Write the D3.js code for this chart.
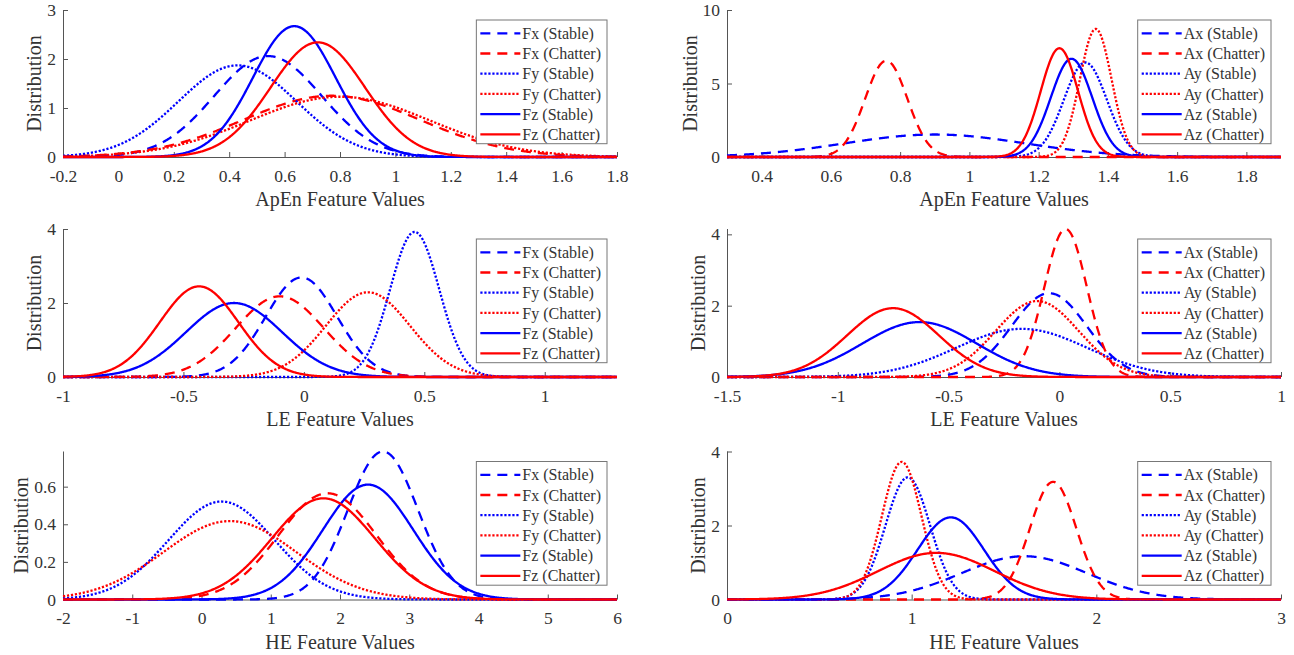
<!DOCTYPE html>
<html>
<head>
<meta charset="utf-8">
<script src="https://cdn.jsdelivr.net/npm/d3@7.9.0/dist/d3.min.js"></script>
<style>
  html, body { margin: 0; padding: 0; background: #fff; }
  svg { display: block; }
  text { font-family: "Liberation Serif", "Times New Roman", serif; fill: #333; }
</style>
</head>
<body>
<svg id="chart" width="1294" height="655"></svg>
<script>
// legend labels
const fLabels = ['Fx (Stable)', 'Fx (Chatter)', 'Fy (Stable)', 'Fy (Chatter)', 'Fz (Stable)', 'Fz (Chatter)'];
const aLabels = ['Ax (Stable)', 'Ax (Chatter)', 'Ay (Stable)', 'Ay (Chatter)', 'Az (Stable)', 'Az (Chatter)'];
const xTitles = ['ApEn Feature Values', 'ApEn Feature Values', 'LE Feature Values', 'LE Feature Values', 'HE Feature Values', 'HE Feature Values'];

// fitted normal curves: peak position and peak height (legend order)
const apenFMean = [0.54, 0.77, 0.43, 0.80, 0.635, 0.72];
const apenFPeak = [2.06, 1.25, 1.87, 1.23, 2.67, 2.34];
const apenAMean = [0.90, 0.76, 1.335, 1.365, 1.295, 1.26];
const apenAPeak = [1.53, 6.55, 6.43, 8.71, 6.68, 7.40];
const leFMean = [-0.01, -0.10, 0.46, 0.266, -0.29, -0.435];
const leFPeak = [2.69, 2.18, 3.92, 2.29, 2.00, 2.45];
const leAMean = [-0.046, 0.028, -0.17, -0.10, -0.631, -0.751];
const leAPeak = [2.35, 4.15, 1.35, 2.13, 1.54, 1.93];
const heFMean = [2.62, 1.82, 0.29, 0.41, 2.405, 1.76];
const heFPeak = [0.787, 0.565, 0.521, 0.417, 0.611, 0.538];
const heAMean = [1.61, 1.766, 0.979, 0.946, 1.212, 1.134];
const heAPeak = [1.17, 3.18, 3.30, 3.72, 2.22, 1.26];

const xDomains = [[-0.2, 1.8], [0.3, 1.9], [-1, 1.3], [-1.5, 1], [-2, 6], [0, 3]];
const yDomains = [[0, 3], [0, 10], [0, 4], [0, 4.15], [0, 0.787], [0, 4]];
const xTickVals = [
  [-0.2, 0, 0.2, 0.4, 0.6, 0.8, 1, 1.2, 1.4, 1.6, 1.8],
  [0.4, 0.6, 0.8, 1, 1.2, 1.4, 1.6, 1.8],
  [-1, -0.5, 0, 0.5, 1],
  [-1.5, -1, -0.5, 0, 0.5, 1],
  [-2, -1, 0, 1, 2, 3, 4, 5, 6],
  [0, 1, 2, 3]
];
const yTickVals = [[0, 1, 2, 3], [0, 5, 10], [0, 2, 4], [0, 2, 4], [0, 0.2, 0.4, 0.6], [0, 2, 4]];

const panelData = [
  { labels: fLabels, mean: apenFMean, peak: apenFPeak },
  { labels: aLabels, mean: apenAMean, peak: apenAPeak },
  { labels: fLabels, mean: leFMean, peak: leFPeak },
  { labels: aLabels, mean: leAMean, peak: leAPeak },
  { labels: fLabels, mean: heFMean, peak: heFPeak },
  { labels: aLabels, mean: heAMean, peak: heAPeak }
];

const colors = ['#0000ff', '#ff0000'];
const dashes = ['10,7', '2.2,1.8', null];

const colLeft = [63, 727];
const colWidth = 554;
const rowBottom = [157, 377, 599.5];
const rowHeight = [147, 148, 148];

const svg = d3.select('#chart');

panelData.forEach((p, k) => {
  const col = k % 2, row = Math.floor(k / 2);
  const x0 = colLeft[col], x1 = x0 + colWidth;
  const yb = rowBottom[row], yt = yb - rowHeight[row];

  const x = d3.scaleLinear().domain(xDomains[k]).range([x0, x1]);
  const y = d3.scaleLinear().domain(yDomains[k]).range([yb, yt]);
  const g = svg.append('g');

  // axes (MATLAB style, ticks inside, no box)
  const xAxis = g.append('g').attr('transform', `translate(0,${yb})`)
    .call(d3.axisBottom(x).tickValues(xTickVals[k]).tickSize(-5).tickPadding(0).tickFormat(d => String(d)));
  xAxis.selectAll('text').attr('y', 24.5).attr('dy', null).style('font-size', '17.5px');
  const yAxis = g.append('g').attr('transform', `translate(${x0},0)`)
    .call(d3.axisLeft(y).tickValues(yTickVals[k]).tickSize(-5).tickPadding(7).tickFormat(d => String(d)));
  yAxis.selectAll('text').style('font-size', '17.5px');
  g.selectAll('.tick line').attr('stroke', '#555');
  xAxis.select('.domain').attr('stroke', '#555').attr('d', `M${x0},0.5H${x1}`);
  yAxis.select('.domain').attr('stroke', '#555').attr('d', `M0.5,${yt}V${yb}`);
  g.selectAll('.tick text').style('fill', '#333').style('font-family', '"Liberation Serif", serif');

  let maxW = 0;
  yAxis.selectAll('text').each(function () { maxW = Math.max(maxW, this.getComputedTextLength()); });

  g.append('text')
    .attr('transform', `translate(${x0 - 7 - maxW - 6},${(yt + yb) / 2}) rotate(-90)`)
    .attr('text-anchor', 'middle')
    .style('font-size', '20px')
    .text('Distribution');

  g.append('text')
    .attr('x', (x0 + x1) / 2).attr('y', yb + 49)
    .attr('text-anchor', 'middle')
    .style('font-size', '20px')
    .text(xTitles[k]);

  // curves
  const xs = d3.range(0, 801).map(i => xDomains[k][0] + (xDomains[k][1] - xDomains[k][0]) * i / 800);
  const line = d3.line().x(d => x(d[0])).y(d => y(d[1]));
  p.mean.forEach((mu, i) => {
    const h = p.peak[i];
    const sd = 1 / (h * Math.sqrt(2 * Math.PI));
    const pts = xs.map(v => [v, h * Math.exp(-((v - mu) ** 2) / (2 * sd * sd))]);
    g.append('path')
      .attr('d', line(pts))
      .attr('fill', 'none')
      .attr('stroke', colors[i % 2])
      .attr('stroke-width', 2.3)
      .attr('stroke-dasharray', dashes[Math.floor(i / 2)]);
  });

  // legend
  const lg = g.append('g');
  const rowH = 20.2;
  const items = lg.selectAll('g.item').data(p.labels).enter().append('g');
  items.append('text').text(d => d).style('font-size', '16px').attr('dy', '0.35em');
  let tw = 0;
  items.select('text').each(function () { tw = Math.max(tw, this.getComputedTextLength()); });
  const boxW = 4 + 40 + 2 + tw + 6;
  const boxH = 123.7;
  const bx = x1 - 10 - boxW, by = yt + 10;
  lg.insert('rect', ':first-child')
    .attr('x', bx).attr('y', by).attr('width', boxW).attr('height', boxH)
    .attr('fill', '#fff').attr('stroke', '#777').attr('stroke-width', 1);
  items.attr('transform', (d, i) => `translate(${bx},${by + 13.3 + i * rowH})`);
  items.select('text').attr('x', 46);
  items.append('line')
    .attr('x1', 4).attr('x2', 44).attr('y1', 0).attr('y2', 0)
    .attr('stroke', (d, i) => colors[i % 2])
    .attr('stroke-width', 2.3)
    .attr('stroke-dasharray', (d, i) => dashes[Math.floor(i / 2)]);
});
</script>
</body>
</html>
